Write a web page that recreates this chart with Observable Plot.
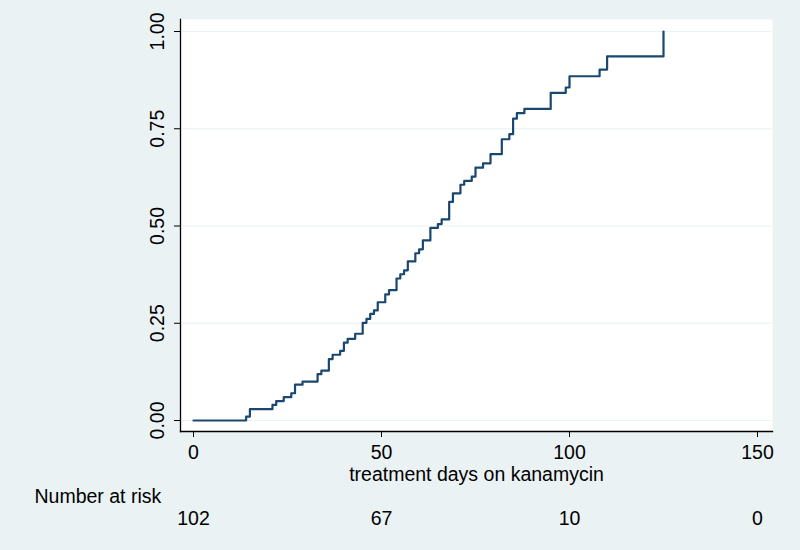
<!DOCTYPE html>
<html>
<head>
<meta charset="utf-8">
<script src="https://cdn.jsdelivr.net/npm/d3@7"></script>
<script src="https://cdn.jsdelivr.net/npm/@observablehq/plot@0.6"></script>
<style>
  html, body { margin: 0; padding: 0; background: #EAF2F3; }
  #chart { width: 800px; height: 550px; }
  svg { display: block; }
</style>
</head>
<body>
<div id="chart"></div>
<script>
// Kaplan-Meier failure curve (step points)
const days = [0,14,15,21,22,24,26,27,29,33,34,36,37,39,40,41,43,45,46,47,48,49,51,52,54,55,56,57,59,60,61,63,65,66,68,69,71,72,74,75,77,79,82,84,85,86,88,95,99,100,108,110,125];
const failure = [0,0.010,0.029,0.040,0.050,0.060,0.070,0.092,0.100,0.119,0.128,0.158,0.169,0.179,0.200,0.210,0.223,0.251,0.261,0.274,0.283,0.304,0.324,0.335,0.365,0.376,0.386,0.409,0.430,0.440,0.463,0.495,0.505,0.517,0.562,0.584,0.606,0.616,0.627,0.650,0.661,0.685,0.723,0.736,0.776,0.790,0.801,0.842,0.856,0.885,0.902,0.936,1.0];

const xTicks = [0, 50, 100, 150];
const yTicks = [0, 0.25, 0.5, 0.75, 1];
const riskTimes = [0, 50, 100, 150];
const riskCounts = [102, 67, 10, 0];
const xTitle = "treatment days on kanamycin";
const riskTitle = "Number at risk";

const data = days.map((d, i) => ({day: d, f: failure[i]}));
const font = "Liberation Sans, Arial, Helvetica, sans-serif";
const fs = 19.5;

const chart = Plot.plot({
  width: 800,
  height: 550,
  marginLeft: 180,
  marginRight: 28,
  marginTop: 19,
  marginBottom: 119,
  insetLeft: 13,
  insetRight: 15,
  insetTop: 12,
  insetBottom: 11,
  style: {background: "#EAF2F3", fontFamily: font, fontSize: fs + "px", color: "#000"},
  x: {domain: [0, 150], ticks: xTicks},
  y: {domain: [0, 1], ticks: yTicks},
  marks: [
    Plot.frame({fill: "white", stroke: null}),
    Plot.gridY(yTicks, {stroke: "#EAF2F3", strokeOpacity: 1, strokeWidth: 1.2}),
    Plot.frame({anchor: "left", stroke: "#000", strokeWidth: 1.3}),
    Plot.frame({anchor: "bottom", stroke: "#000", strokeWidth: 1.3}),
    Plot.axisX({ticks: xTicks, tickSize: 6, tickPadding: 8, tickFormat: d => String(d), fontSize: fs, label: null, stroke: "#000"}),
    Plot.axisY({ticks: yTicks, tickSize: 6, tickPadding: 11, tickRotate: -90, tickFormat: d3.format(".2f"), fontSize: fs, label: null, stroke: "#000"}),
    Plot.line(data, {x: "day", y: "f", curve: "step-after", stroke: "#1A476F", strokeWidth: 2.2}),
    Plot.text([xTitle], {text: d => d, frameAnchor: "bottom", lineAnchor: "top", dy: 36, fontSize: fs, fill: "#000"}),
    Plot.text([riskTitle], {text: d => d, frameAnchor: "bottom-left", textAnchor: "start", lineAnchor: "top", dx: -146, dy: 58, fontSize: fs, fill: "#000"}),
    Plot.text(riskTimes, {x: d => d, text: (d, i) => String(riskCounts[i]), frameAnchor: "bottom", lineAnchor: "top", dy: 80, fontSize: fs, fill: "#000"})
  ]
});
document.getElementById("chart").appendChild(chart);
</script>
</body>
</html>
